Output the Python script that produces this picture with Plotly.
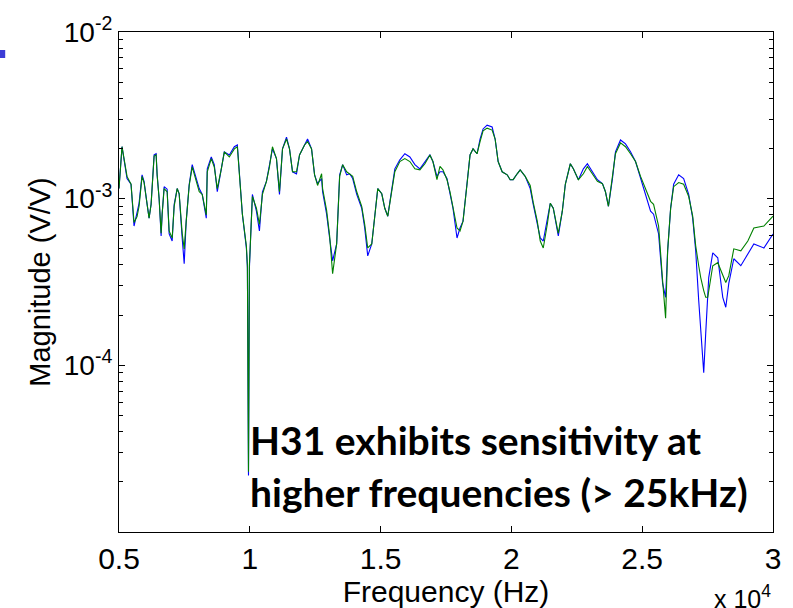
import plotly.graph_objects as go

# Frequency (Hz) and magnitudes (units of 1e-3 V/V)
freq_hz = [5000, 5115, 5307, 5460, 5575, 5690, 5767, 5882, 5958, 6074, 6150, 6227, 6342, 6419, 6457, 6534,
           6610, 6649, 6725, 6840, 6917, 7032, 7109, 7224, 7300, 7415, 7492, 7569, 7684, 7799, 7952, 8067,
           8182, 8336, 8374, 8527, 8642, 8757, 8911, 9026, 9217, 9409, 9524, 9601, 9716, 9869, 9908, 9950,
           9985, 10099, 10253, 10368, 10483, 10636, 10751, 10866, 11019, 11134, 11250, 11403, 11518, 11633,
           11786, 11901, 12093, 12208, 12361, 12476, 12591, 12745, 12783, 12936, 13051, 13166, 13320, 13435,
           13550, 13703, 13818, 13933, 14087, 14278, 14393, 14508, 14662, 14777, 14892, 15045, 15160, 15275,
           15428, 15544, 15735, 15927, 16119, 16310, 16502, 16694, 16885, 17000, 17154, 17269, 17384, 17537,
           17652, 17767, 17921, 18036, 18151, 18304, 18419, 18534, 18687, 18802, 18917, 19071, 19263, 19378,
           19493, 19646, 19838, 19953, 20068, 20221, 20336, 20528, 20719, 20834, 20988, 21103, 21218, 21371,
           21486, 21601, 21755, 21793, 21946, 22061, 22253, 22368, 22560, 22751, 22905, 23097, 23288, 23480,
           23595, 23710, 23863, 23978, 24170, 24362, 24553, 24745, 24937, 25129, 25320, 25435, 25627, 25780,
           25895, 25972, 26087, 26202, 26394, 26585, 26777, 26930, 27045, 27160, 27237, 27352, 27428, 27505,
           27543, 27697, 27888, 28080, 28195, 28310, 28501, 28770, 29038, 29268, 29651, 30000]

blue_mag = [1.15, 2.05, 1.32, 1.22, 0.685, 0.807, 0.938, 1.39, 1.27, 0.925, 0.764, 0.925, 1.83, 1.86, 1.39, 1.0,
            0.597, 0.807, 1.18, 1.14, 0.614, 0.557, 0.925, 1.15, 1.07, 0.581, 0.407, 0.733, 1.22, 1.60, 1.30, 1.15,
            1.06, 0.764, 1.51, 1.78, 1.60, 1.10, 1.51, 1.91, 1.83, 2.05, 2.10, 1.45, 0.807, 0.506, 0.385, 0.0218,
            0.385, 1.06, 0.841, 0.640, 1.10, 1.27, 1.60, 1.99, 1.74, 1.06, 1.99, 2.34, 1.99, 1.45,
            1.41, 1.83, 2.10, 2.28, 1.99, 1.39, 1.23, 1.32, 1.10, 0.807, 0.581, 0.424, 0.535, 1.39,
            1.60, 1.39, 1.41, 1.32, 1.06, 0.876, 0.667, 0.454, 0.535, 0.807, 1.15, 1.07, 0.876, 0.785,
            1.15, 1.51, 1.71, 1.86, 1.78, 1.60, 1.51, 1.67, 1.83, 1.67, 1.36, 1.45, 1.45, 1.32,
            1.10, 0.876, 0.581, 0.667, 0.733, 1.22, 1.83, 1.99, 1.86, 2.28, 2.62, 2.76, 2.69, 2.28,
            1.67, 1.45, 1.39, 1.30, 1.30, 1.41, 1.49, 1.36, 1.15, 0.925, 0.703, 0.581, 0.557, 0.733,
            0.938, 0.876, 0.667, 0.597, 0.841, 1.22, 1.62, 1.51, 1.30, 1.51, 1.62, 1.45, 1.30, 1.23,
            1.10, 0.90, 1.32, 1.91, 2.25, 2.13, 1.91, 1.67, 1.32, 1.06, 0.841, 0.807, 0.614, 0.310,
            0.256, 0.486, 0.876, 1.22, 1.39, 1.32, 1.06, 0.764, 0.486, 0.245, 0.163, 0.0904, 0.156, 0.245,
            0.336, 0.473, 0.442, 0.256, 0.223, 0.310, 0.436, 0.396, 0.467, 0.535, 0.506, 0.614]

green_mag = [1.15, 2.05, 1.36, 1.22, 0.72, 0.78, 0.90, 1.36, 1.25, 0.95, 0.764, 0.925, 1.80, 1.83, 1.39, 1.0,
             0.62, 0.807, 1.15, 1.10, 0.64, 0.58, 0.90, 1.15, 1.07, 0.62, 0.50, 0.733, 1.20, 1.55, 1.30, 1.10,
             1.06, 0.80, 1.45, 1.74, 1.55, 1.15, 1.51, 1.91, 1.78, 1.99, 2.05, 1.45, 0.807, 0.52, 0.40, 0.0230,
             0.40, 1.03, 0.876, 0.70, 1.06, 1.27, 1.55, 2.05, 1.74, 1.10, 1.99, 2.28, 1.99, 1.45,
             1.45, 1.83, 2.10, 2.20, 1.99, 1.39, 1.20, 1.41, 1.15, 0.85, 0.60, 0.355, 0.535, 1.36,
             1.60, 1.45, 1.41, 1.36, 1.10, 0.90, 0.70, 0.506, 0.535, 0.807, 1.15, 1.07, 0.876, 0.785,
             1.15, 1.45, 1.67, 1.74, 1.67, 1.51, 1.49, 1.62, 1.83, 1.67, 1.30, 1.56, 1.49, 1.30,
             1.10, 0.876, 0.667, 0.64, 0.733, 1.22, 1.83, 1.99, 1.86, 2.20, 2.55, 2.65, 2.58, 2.28,
             1.67, 1.45, 1.39, 1.30, 1.30, 1.41, 1.49, 1.36, 1.20, 0.95, 0.733, 0.557, 0.506, 0.70,
             0.938, 0.876, 0.64, 0.62, 0.841, 1.22, 1.62, 1.51, 1.30, 1.41, 1.56, 1.41, 1.27, 1.23,
             1.10, 0.90, 1.32, 1.86, 2.16, 2.05, 1.86, 1.67, 1.36, 1.14, 0.964, 0.925, 0.685, 0.323,
             0.192, 0.486, 0.876, 1.18, 1.25, 1.22, 1.03, 0.785, 0.521, 0.396, 0.336, 0.281, 0.256, 0.256,
             0.281, 0.396, 0.413, 0.345, 0.314, 0.345, 0.500, 0.486, 0.557, 0.667, 0.685, 0.785]

x_ticks = [0.5, 1, 1.5, 2, 2.5, 3]
x_tick_text = ["0.5", "1", "1.5", "2", "2.5", "3"]
y_ticks = [1e-4, 1e-3, 1e-2]
y_tick_text = ["10<sup>-4</sup>", "10<sup>-3</sup>", "10<sup>-2</sup>"]

x_scaled = [f / 1e4 for f in freq_hz]
blue_v = [m * 1e-3 for m in blue_mag]
green_v = [m * 1e-3 for m in green_mag]

fig = go.Figure()
fig.add_trace(go.Scatter(x=x_scaled, y=blue_v, mode="lines",
                         line=dict(color="#0000ff", width=1.1), name="blue"))
fig.add_trace(go.Scatter(x=x_scaled, y=green_v, mode="lines",
                         line=dict(color="#008000", width=1.1), name="green"))

FONT = "Liberation Sans, Arial, sans-serif"

fig.update_layout(
    width=793, height=608,
    margin=dict(l=119, r=20, t=29, b=74),
    paper_bgcolor="white", plot_bgcolor="white",
    showlegend=False,
    font=dict(family=FONT, color="black"),
    xaxis=dict(
        range=[0.5, 3], tickmode="array", tickvals=x_ticks, ticktext=x_tick_text,
        ticks="inside", ticklen=6, tickcolor="black", tickwidth=1,
        showline=True, linecolor="black", linewidth=1, mirror="ticks",
        showgrid=False, zeroline=False,
        tickfont=dict(size=30, family=FONT),
        title=dict(text="Frequency (Hz)", font=dict(size=30, family=FONT), standoff=0),
    ),
    yaxis=dict(
        type="log", range=[-5, -2], tickmode="array", tickvals=y_ticks, ticktext=y_tick_text,
        ticks="inside", ticklen=6, tickcolor="black", tickwidth=1,
        showline=True, linecolor="black", linewidth=1, mirror="ticks",
        showgrid=False, zeroline=False,
        tickfont=dict(size=28, family=FONT),
        minor=dict(ticks="inside", ticklen=4, tickcolor="black", dtick="D1", showgrid=False),
        title=dict(text="Magnitude (V/V)", font=dict(size=29, family=FONT), standoff=4),
    ),
)

fig.add_annotation(xref="paper", yref="paper", x=1.0, y=-0.13, xanchor="right", yanchor="middle",
                   text="x 10<sup>4</sup>", showarrow=False, font=dict(size=25, family=FONT, color="black"))

TFONT = "Lato, Carlito, Calibri, sans-serif"
fig.add_annotation(xref="paper", yref="paper", x=0.198, y=0.184, xanchor="left", yanchor="middle",
                   text="<b>H31 exhibits sensitivity at</b>", showarrow=False,
                   font=dict(size=39, family=TFONT, color="black"))
fig.add_annotation(xref="paper", yref="paper", x=0.198, y=0.081, xanchor="left", yanchor="middle",
                   text="<b>higher frequencies (> 25kHz)</b>", showarrow=False,
                   font=dict(size=39, family=TFONT, color="black"))

fig.add_shape(type="rect", xref="paper", yref="paper", x0=-0.182, x1=-0.174, y0=0.948, y1=0.964,
              fillcolor="#3c3cd6", line=dict(width=0))

fig.write_html("out.html", config={"displayModeBar": False},
               post_script="document.body.style.margin='0px';")
